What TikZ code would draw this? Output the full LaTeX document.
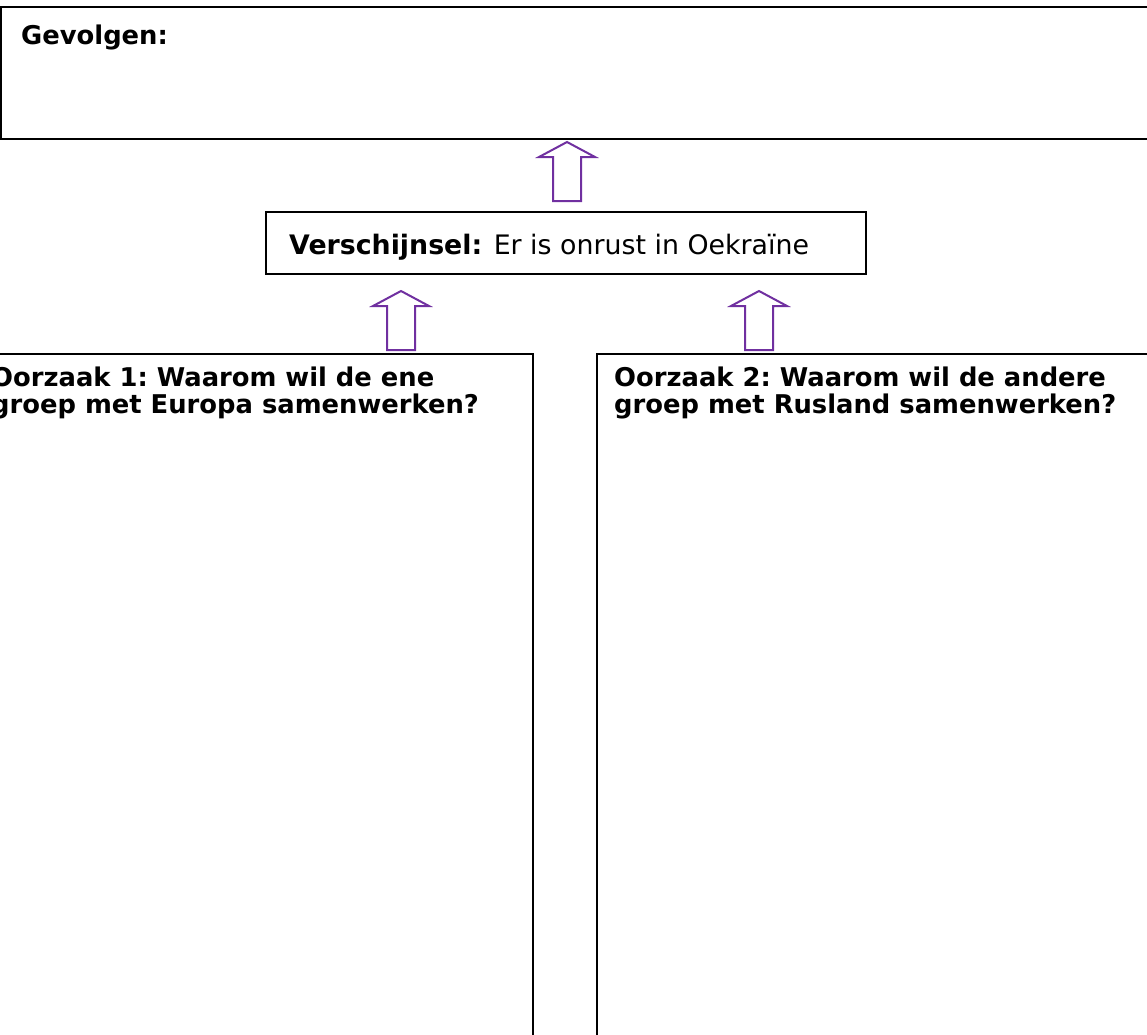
\documentclass[tikz,border=0pt]{standalone}
\usepackage{fontspec}
\setmainfont{DejaVu Sans}
\usetikzlibrary{calc}
\definecolor{pijlpaars}{HTML}{7030A0}
\frenchspacing

\tikzset{
	vak/.style={draw, line width=2pt, inner sep=0pt},
	tekst/.style={inner sep=0pt, align=left, font=\fontsize{25.8}{27.5}\selectfont},
	pijl/.style={draw=pijlpaars, line width=2pt, line join=miter},
	blokpijl/.pic={
		\draw[pijl](0,0)--(28,15)--(14,15)--(14,59)--(-14,59)--(-14,15)--(-28,15)--cycle;
	}
}

\begin{document}
\begin{tikzpicture}[x=1pt,y=-1pt]
		\useasboundingbox(0,0)rectangle(1147,1034);
		\clip(0,0)rectangle(1147,1034);
		% vakken
		\node[vak,minimum width=1170pt,minimum height=132pt](gevolgen)at(586,73){};
		\node[vak,minimum width=600pt,minimum height=62pt](verschijnsel)at(566,243){};
		\node[vak,minimum width=559pt,minimum height=706pt](oorzaak1)at(253.5,707){};
		\node[vak,minimum width=559pt,minimum height=706pt](oorzaak2)at(876.5,707){};
		% teksten
		\node[tekst,anchor=base west](gevolgentekst)at($(gevolgen.north west)+(21,38)$){\textbf{Gevolgen:}};
		\node[tekst,anchor=base west,font=\fontsize{26.8}{28}\selectfont](verschijnseltekst)at($(verschijnsel.west)+(24,11)$){\textbf{Verschijnsel:}\hspace{3pt} Er is onrust in Oekraïne};
		\node[tekst,anchor=base west](oorzaak1tekst)at($(oorzaak1.north west)+(18,33)$){\textbf{Oorzaak 1: Waarom wil de ene}};
		\node[tekst,anchor=base west](oorzaak1tekstb)at($(oorzaak1tekst.base west)+(0,27.5)$){\textbf{groep met Europa samenwerken?}};
		\node[tekst,anchor=base west](oorzaak2tekst)at($(oorzaak2.north west)+(18,33)$){\textbf{Oorzaak 2: Waarom wil de andere}};
		\node[tekst,anchor=base west](oorzaak2tekstb)at($(oorzaak2tekst.base west)+(0,27.5)$){\textbf{groep met Rusland samenwerken?}};
		% pijlen
		\pic at($(verschijnsel.north)+(1,-69)$){blokpijl};
		\pic at($(verschijnsel.south west)+(136,16)$){blokpijl};
		\pic at($(verschijnsel.south east)+(-108,16)$){blokpijl};
\end{tikzpicture}
\end{document}
